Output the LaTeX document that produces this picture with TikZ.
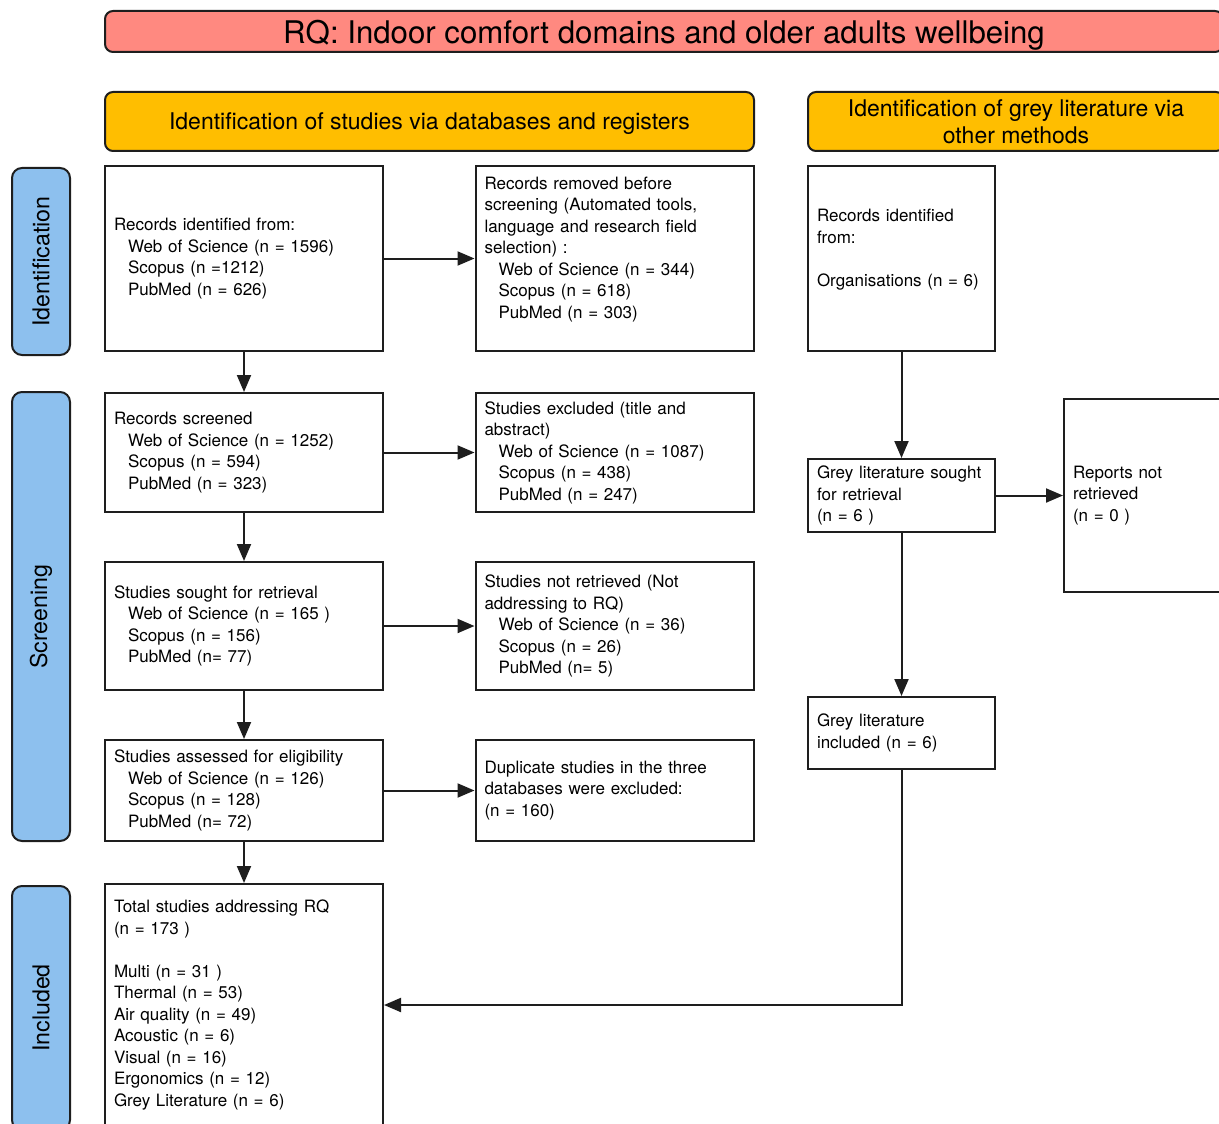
\documentclass[tikz,border=0pt]{standalone}
\usepackage{fontspec}
\setmainfont{TeX Gyre Heros}
\usetikzlibrary{arrows.meta,positioning}
\definecolor{rqcol}{RGB}{255,137,128}
\definecolor{phasecol}{RGB}{255,190,0}
\definecolor{stagecol}{RGB}{141,192,238}
\definecolor{edgecol}{RGB}{30,30,30}
\newcommand{\dbind}{\hspace*{7pt}}
\tikzset{
  % research question banner
  rqbar/.style={rectangle, rounded corners=4pt, draw=edgecol, line width=1pt, fill=rqcol,
               minimum height=20.5pt, inner sep=0pt, text depth=0pt, font=\fontsize{15.6pt}{18pt}\selectfont},
  % column header
  colhead/.style={rectangle, rounded corners=4pt, draw=edgecol, line width=1pt, fill=phasecol,
               minimum height=29.5pt, inner sep=0pt, align=center, font=\fontsize{11.5pt}{13.5pt}\selectfont},
  % stage label on the left
  stagelab/.style={rectangle, rounded corners=5pt, draw=edgecol, line width=1pt, fill=stagecol,
               rotate=90, minimum height=29pt, inner sep=0pt, font=\fontsize{11.6pt}{14pt}\selectfont},
  % record box, database column
  dbbox/.style={rectangle, draw=edgecol, line width=1pt, text width=130pt, inner xsep=4.5pt,
               inner ysep=0pt, align=left, minimum height=#1, font=\fontsize{8.5pt}{10.75pt}\selectfont},
  % record box, grey literature column
  gbox/.style={rectangle, draw=edgecol, line width=1pt, text width=84.5pt, inner xsep=4.5pt,
               inner ysep=0pt, align=left, minimum height=#1, font=\fontsize{8.5pt}{10.75pt}\selectfont},
  % flow arrow
  flowarrow/.style={-{Triangle[length=8.5pt,width=7pt]}, line width=1pt, draw=edgecol},
}
\begin{document}
\begin{tikzpicture}[x=0.5pt, y=-0.5pt]
  \useasboundingbox (0,0) rectangle (1219,1123);
  \clip (0,0) rectangle (1219,1123);

  % ── Research question and column headers ──
  \node[rqbar, minimum width=559pt] (rq) at (664,31.5) {RQ: Indoor comfort domains and older adults wellbeing};
  \node[colhead, minimum width=324.5pt, text depth=0pt] (hdb) at (429.5,121.5) {Identification of studies via databases and registers};
  \node[colhead, minimum width=208pt] (hgrey) at (1016,121.5) {Identification of grey literature via\\other methods};

  % ── Stage labels ──
  \node[stagelab, minimum width=93.5pt] (sid) at (41,261.5) {Identification};
  \node[stagelab, minimum width=224.5pt] (sscr) at (41,616.5) {Screening};
  \node[stagelab, minimum width=122pt] (sinc) at (41,1008) {Included};

  % ── Databases column ──
  \node[dbbox=92.5pt] (ident) at (244,258.5)
    {Records identified from:\\
     \dbind Web of Science (n = 1596)\\
     \dbind Scopus (n =1212)\\
     \dbind PubMed (n = 626)};
  \node[dbbox=92.5pt] (removed) at (614.5,258.5)
    {Records removed before\\
     screening (Automated tools,\\
     language and research field\\
     selection) :\\
     \dbind Web of Science (n = 344)\\
     \dbind Scopus (n = 618)\\
     \dbind PubMed (n = 303)\\ \mbox{}};

  \node[dbbox=59.5pt] (screened) at (244,452.5)
    {Records screened\\
     \dbind Web of Science (n = 1252)\\
     \dbind Scopus (n = 594)\\
     \dbind PubMed (n = 323)};
  \node[dbbox=59.5pt] (excluded) at (614.5,452.5)
    {Studies excluded (title and\\
     abstract)\\
     \dbind Web of Science (n = 1087)\\
     \dbind Scopus (n = 438)\\
     \dbind PubMed (n = 247)};

  \node[dbbox=64pt] (sought) at (244,626)
    {Studies sought for retrieval\\
     \dbind Web of Science (n = 165 )\\
     \dbind Scopus (n = 156)\\
     \dbind PubMed (n= 77)};
  \node[dbbox=64pt] (notretr) at (614.5,626)
    {Studies not retrieved (Not\\
     addressing to RQ)\\
     \dbind Web of Science (n = 36)\\
     \dbind Scopus (n = 26)\\
     \dbind PubMed (n= 5)};

  \node[dbbox=50.5pt] (assessed) at (244,790.5)
    {Studies assessed for eligibility\\
     \dbind Web of Science (n = 126)\\
     \dbind Scopus (n = 128)\\
     \dbind PubMed (n= 72)};
  \node[dbbox=50.5pt] (dupl) at (614.5,790.5)
    {Duplicate studies in the three\\
     databases were excluded:\\
     (n = 160)};

  \node[dbbox=121pt] (total) at (244,1005)
    {Total studies addressing RQ\\
     (n = 173 )\\[10.75pt]
     Multi (n = 31 )\\
     Thermal (n = 53)\\
     Air quality (n = 49)\\
     Acoustic (n = 6)\\
     Visual (n = 16)\\
     Ergonomics (n = 12)\\
     Grey Literature (n = 6)};

  % ── Grey literature column ──
  \node[gbox=92.5pt] (gident) at (901.5,258.5)
    {Records identified\\
     from:\\[10.75pt]
     Organisations (n = 6)\\ \mbox{}};
  \node[gbox=36.5pt] (gsought) at (901.5,495.5)
    {Grey literature sought\\
     for retrieval\\
     (n = 6 )};
  \node[gbox=96.5pt] (gnotretr) at (1157.5,495.5)
    {Reports not\\
     retrieved\\
     (n = 0 )};
  \node[gbox=36pt] (gincl) at (901.5,733)
    {Grey literature\\
     included (n = 6)};

  % ── Connectors ──
  \draw[flowarrow] (ident) -- (removed);
  \draw[flowarrow] (ident) -- (screened);
  \draw[flowarrow] (screened) -- (excluded);
  \draw[flowarrow] (screened) -- (sought);
  \draw[flowarrow] (sought) -- (notretr);
  \draw[flowarrow] (sought) -- (assessed);
  \draw[flowarrow] (assessed) -- (dupl);
  \draw[flowarrow] (assessed) -- (total);
  \draw[flowarrow] (gident) -- (gsought);
  \draw[flowarrow] (gsought) -- (gnotretr);
  \draw[flowarrow] (gsought) -- (gincl);
  \draw[flowarrow] (gincl.south) |- (total.east);

\end{tikzpicture}
\end{document}
